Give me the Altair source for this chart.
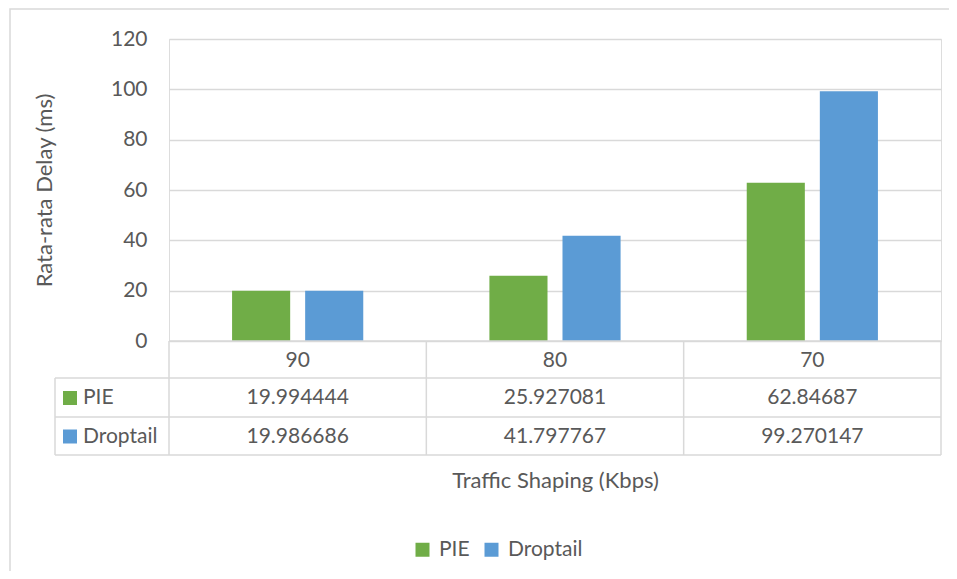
import altair as alt
import pandas as pd

categories = ["90", "80", "70"]
series = ["PIE", "Droptail"]
pie_values = [19.994444, 25.927081, 62.84687]
droptail_values = [19.986686, 41.797767, 99.270147]
colors = ["#70ad47", "#5b9bd5"]
y_ticks = [0, 20, 40, 60, 80, 100, 120]

rows = []
for s, vals in zip(series, [pie_values, droptail_values]):
    for c, v in zip(categories, vals):
        rows.append({"cat": c, "series": s, "value": v, "label": str(v)})
df = pd.DataFrame(rows)
cat_df = pd.DataFrame({"cat": categories})

FONT = "Lato"
TXT = "#595959"
GRID = "#d9d9d9"
W, H = 772, 302
FS = 21
TFS = 22

xscale = alt.Scale(domain=categories, paddingInner=0, paddingOuter=0)

bars = alt.Chart(df).mark_bar().encode(
    x=alt.X("cat:N", sort=categories, scale=xscale,
            axis=alt.Axis(labels=False, ticks=False, domain=False,
                          title="Traffic Shaping (Kbps)", titleFont=FONT,
                          titleFontSize=TFS, titleFontWeight="normal",
                          titleColor=TXT, titleY=139, titleBaseline="middle")),
    xOffset=alt.XOffset("series:N", sort=series,
                        scale=alt.Scale(domain=series, paddingInner=0.205, paddingOuter=0.863)),
    y=alt.Y("value:Q", scale=alt.Scale(domain=[0, 120]),
            axis=alt.Axis(values=y_ticks, domain=False, ticks=False,
                          labelPadding=22, labelFont=FONT, labelFontSize=FS,
                          labelColor=TXT, gridColor=GRID, gridWidth=1.3,
                          title="Rata-rata Delay (ms)", titleFont=FONT,
                          titleFontSize=TFS, titleFontWeight="normal",
                          titleColor=TXT, titleX=-118, titleY=151,
                          titleBaseline="alphabetic")),
    color=alt.Color("series:N", sort=series,
                    scale=alt.Scale(domain=series, range=colors),
                    legend=alt.Legend(title=None, orient="none", direction="horizontal",
                                      legendX=243, legendY=500, symbolType="square",
                                      symbolSize=196, symbolStrokeWidth=0,
                                      labelFont=FONT, labelFontSize=FS,
                                      labelColor=TXT, labelOffset=6,
                                      columnPadding=11, padding=0)),
)

# outer chart border
border = alt.Chart(cat_df.head(1)).mark_rect(fill=None, stroke=GRID, strokeWidth=1.5).encode(
    x=alt.value(-159), x2=alt.value(820), y=alt.value(-30), y2=alt.value(600)
)

# table grid lines
line_style = dict(color=GRID, strokeWidth=1.5)
hlines = [
    alt.Chart(cat_df.head(1)).mark_rule(**line_style).encode(
        x=alt.value(0), x2=alt.value(W), y=alt.value(H)),
]
for yy in [339, 378, 416]:
    hlines.append(alt.Chart(cat_df.head(1)).mark_rule(**line_style).encode(
        x=alt.value(-114), x2=alt.value(W), y=alt.value(yy)))
vlines = [
    alt.Chart(cat_df.head(1)).mark_rule(**line_style).encode(
        x=alt.value(-114), y=alt.value(339), y2=alt.value(416)),
    alt.Chart(cat_df.head(1)).mark_rule(**line_style).encode(
        x=alt.value(W), y=alt.value(H), y2=alt.value(416)),
]
cat_lines = alt.Chart(cat_df).mark_rule(**line_style).encode(
    x=alt.X("cat:N", sort=categories, scale=xscale, bandPosition=0),
    y=alt.value(H), y2=alt.value(416),
)

header = alt.Chart(cat_df).mark_text(font=FONT, fontSize=FS, color=TXT, baseline="middle").encode(
    x=alt.X("cat:N", sort=categories, scale=xscale), y=alt.value(321.5), text="cat:N"
)

row_layers = []
row_y = [359, 397.5]
for s, col, ry in zip(series, colors, row_y):
    sub = df[df["series"] == s]
    row_layers.append(alt.Chart(sub).mark_text(font=FONT, fontSize=FS, color=TXT, baseline="middle").encode(
        x=alt.X("cat:N", sort=categories, scale=xscale), y=alt.value(ry), text="label:N"))
    row_layers.append(alt.Chart(sub.head(1)).mark_square(size=196, color=col, opacity=1).encode(
        x=alt.value(-99), y=alt.value(ry)))
    row_layers.append(alt.Chart(sub.head(1)).mark_text(font=FONT, fontSize=FS, color=TXT,
                                                         align="left", baseline="middle").encode(
        x=alt.value(-86), y=alt.value(ry), text="series:N"))

chart = alt.layer(border, bars, *hlines, *vlines, cat_lines, header, *row_layers).properties(
    width=W, height=H,
    autosize=alt.AutoSizeParams(type="none"),
    padding={"left": 161, "top": 31, "right": 8, "bottom": 230},
).configure_view(stroke=None).configure(background="white")

chart.save("out.html", embed_options={"renderer": "svg", "actions": False})
